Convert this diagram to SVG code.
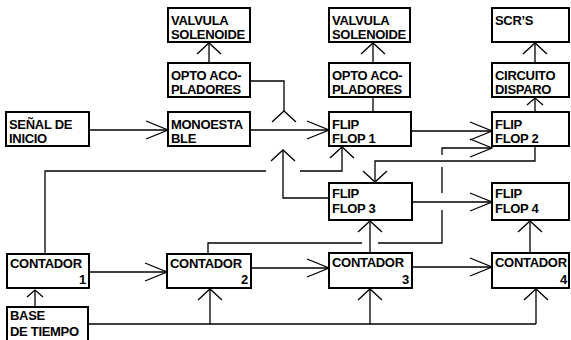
<svg xmlns="http://www.w3.org/2000/svg" width="571" height="340" viewBox="0 0 571 340">
<style>
.box{fill:#fff;stroke:#000;stroke-width:2}
.t{font-family:"Liberation Sans",Arial,sans-serif;font-weight:bold;font-size:13px;fill:#000;letter-spacing:-0.3px}
.e{text-anchor:end}
.c{fill:none;stroke:#000;stroke-width:1.3}
</style>
<defs>
<marker id="ah" markerUnits="userSpaceOnUse" markerWidth="26" markerHeight="22" refX="23" refY="10" orient="auto">
<path d="M1,1 L23,10 L1,19" fill="none" stroke="#000" stroke-width="1.3"/>
</marker>
<marker id="av" markerUnits="userSpaceOnUse" markerWidth="14" markerHeight="28" refX="12" refY="13" orient="auto">
<path d="M1,1 L12,13 L1,25" fill="none" stroke="#000" stroke-width="1.3"/>
</marker>
<marker id="avs" markerUnits="userSpaceOnUse" markerWidth="10" markerHeight="20" refX="8" refY="9" orient="auto">
<path d="M1,1 L8,9 L1,17" fill="none" stroke="#000" stroke-width="1.3"/>
</marker>
</defs>
<rect width="571" height="340" fill="#fff"/>
<g id="connectors">
<path class="c" d="M89,130 H168" marker-end="url(#ah)"/>
<path class="c" d="M250,130 H329" marker-end="url(#ah)"/>
<path class="c" d="M411,131 H492" marker-end="url(#ah)"/>
<path class="c" d="M412,202 H492" marker-end="url(#ah)"/>
<path class="c" d="M89,272 H167" marker-end="url(#ah)"/>
<path class="c" d="M251,268 H329" marker-end="url(#ah)"/>
<path class="c" d="M412,267 H492" marker-end="url(#ah)"/>
<path class="c" d="M209,63 V43" marker-end="url(#av)"/>
<path class="c" d="M373,63 V43" marker-end="url(#av)"/>
<path class="c" d="M535,63 V43" marker-end="url(#av)"/>
<path class="c" d="M373,112 V97"/>
<path class="c" d="M535,112 V98" marker-end="url(#avs)"/>
<path class="c" d="M284,111 V81 H250" marker-start="url(#av)"/>
<path class="c" d="M329,198 H283 V150" marker-end="url(#av)"/>
<path class="c" d="M45,254 V171 H266 M300,171 H342 V147" marker-end="url(#av)"/>
<path class="c" d="M535,146 V161 H375 V182" marker-end="url(#av)"/>
<path class="c" d="M208,254 V243 H362 M378,243 H442 V210 M442,193 V167 M442,155 V148 H492" marker-end="url(#ah)"/>
<path class="c" d="M370,253 V221" marker-end="url(#av)"/>
<path class="c" d="M530,253 V221" marker-end="url(#av)"/>
<path class="c" d="M35,307 V290" marker-end="url(#avs)"/>
<path class="c" d="M88,324 H536"/>
<path class="c" d="M210,324 V289" marker-end="url(#av)"/>
<path class="c" d="M370,324 V289" marker-end="url(#av)"/>
<path class="c" d="M536,324 V289" marker-end="url(#av)"/>
</g>
<g id="valvula1"><rect class="box" x="168" y="8" width="82" height="34"/><text class="t" x="171" y="25">VALVULA</text><text class="t" x="171" y="39">SOLENOIDE</text></g>
<g id="opto1"><rect class="box" x="168" y="63" width="82" height="34"/><text class="t" x="171" y="80">OPTO ACO-</text><text class="t" x="171" y="94">PLADORES</text></g>
<g id="senal"><rect class="box" x="6" y="112" width="83" height="34"/><text class="t" x="9" y="129">SEÑAL DE</text><text class="t" x="9" y="143">INICIO</text></g>
<g id="monoestable"><rect class="box" x="168" y="112" width="82" height="34"/><text class="t" x="171" y="129">MONOESTA</text><text class="t" x="171" y="143">BLE</text></g>
<g id="valvula2"><rect class="box" x="329" y="8" width="81" height="34"/><text class="t" x="332" y="25">VALVULA</text><text class="t" x="332" y="39">SOLENOIDE</text></g>
<g id="opto2"><rect class="box" x="329" y="63" width="81" height="34"/><text class="t" x="332" y="80">OPTO ACO-</text><text class="t" x="332" y="94">PLADORES</text></g>
<g id="ff1"><rect class="box" x="329" y="112" width="82" height="34"/><text class="t" x="332" y="129">FLIP</text><text class="t" x="332" y="143">FLOP 1</text></g>
<g id="scrs"><rect class="box" x="492" y="8" width="77" height="34"/><text class="t" x="495" y="25">SCR’S</text></g>
<g id="circuito"><rect class="box" x="492" y="63" width="77" height="34"/><text class="t" x="495" y="80">CIRCUITO</text><text class="t" x="495" y="94">DISPARO</text></g>
<g id="ff2"><rect class="box" x="492" y="112" width="77" height="34"/><text class="t" x="495" y="129">FLIP</text><text class="t" x="495" y="143">FLOP 2</text></g>
<g id="ff3"><rect class="box" x="329" y="183" width="83" height="37"/><text class="t" x="332" y="198">FLIP</text><text class="t" x="332" y="213">FLOP 3</text></g>
<g id="ff4"><rect class="box" x="492" y="183" width="77" height="37"/><text class="t" x="495" y="198">FLIP</text><text class="t" x="495" y="213">FLOP 4</text></g>
<g id="contador1"><rect class="box" x="7" y="254" width="82" height="34"/><text class="t" x="10" y="268">CONTADOR</text><text class="t e" x="86" y="284">1</text></g>
<g id="contador2"><rect class="box" x="167" y="254" width="84" height="34"/><text class="t" x="170" y="268">CONTADOR</text><text class="t e" x="248" y="284">2</text></g>
<g id="contador3"><rect class="box" x="329" y="253" width="83" height="35"/><text class="t" x="332" y="267">CONTADOR</text><text class="t e" x="409" y="284">3</text></g>
<g id="contador4"><rect class="box" x="492" y="253" width="77" height="35"/><text class="t" x="495" y="267">CONTADOR</text><text class="t e" x="567" y="284">4</text></g>
<g id="base"><rect class="box" x="7" y="307" width="81" height="40"/><text class="t" x="10" y="320">BASE</text><text class="t" x="10" y="336">DE TIEMPO</text></g>
</svg>
